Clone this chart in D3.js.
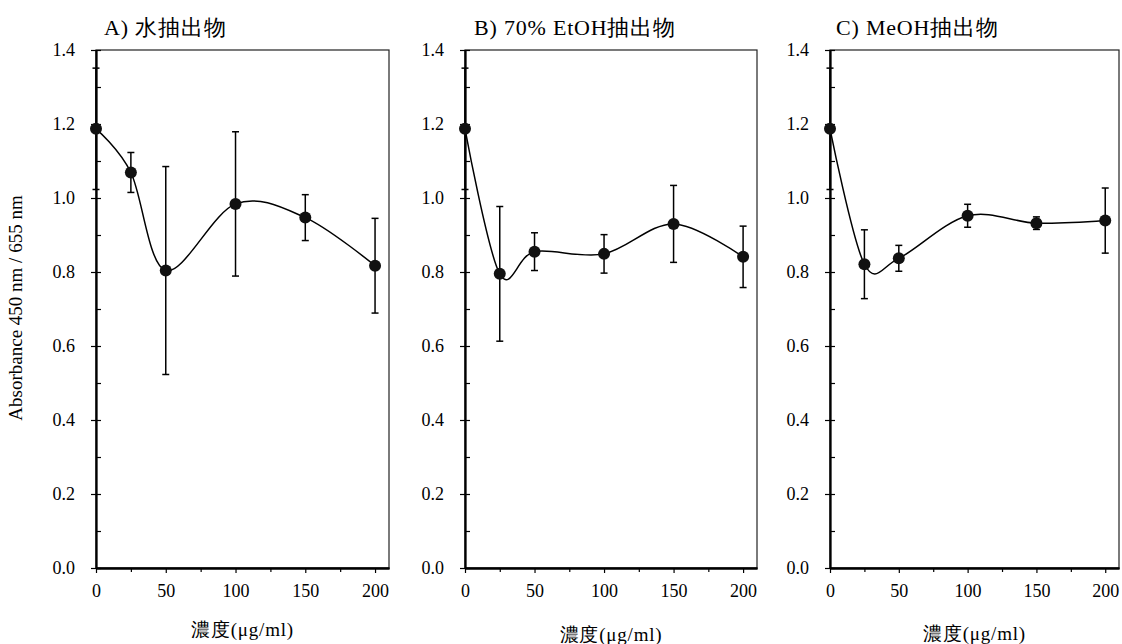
<!DOCTYPE html>
<html>
<head>
<meta charset="utf-8">
<script src="https://cdn.jsdelivr.net/npm/d3@7"></script>
<style>
  body { margin: 0; background: #fff; }
  svg text { font-family: "Liberation Serif", serif; fill: #000; }
</style>
</head>
<body>
<svg width="1122" height="644"></svg>
<script>
// concentrations (µg/ml)
const conc = [0, 25, 50, 100, 150, 200];

// A) water extract
const meanA = [1.187, 1.069, 0.804, 0.984, 0.947, 0.817];
const errA  = [0.164, 0.054, 0.281, 0.195, 0.062, 0.128];
// B) 70% EtOH extract
const meanB = [1.187, 0.795, 0.855, 0.849, 0.930, 0.841];
const errB  = [0.164, 0.182, 0.051, 0.052, 0.104, 0.083];
// C) MeOH extract
const meanC = [1.187, 0.821, 0.837, 0.952, 0.932, 0.939];
const errC  = [0.164, 0.093, 0.035, 0.031, 0.017, 0.088];

const titles = ["A) 水抽出物", "B) 70% EtOH抽出物", "C) MeOH抽出物"];
const xTitle = "濃度(μg/ml)";
const yTitle = "Absorbance 450 nm / 655 nm";
const yTicks = [0, 0.2, 0.4, 0.6, 0.8, 1.0, 1.2, 1.4];
const yMinor = d3.range(0, 1.41, 0.1);
const xTicks = [0, 50, 100, 150, 200];
const xMinor = [25, 75, 125, 175];

const panels = [
  {left: 96,  width: 293, title: titles[0], titleX: 104, xLabY: 636, mean: meanA, err: errA},
  {left: 465, width: 292, title: titles[1], titleX: 474, xLabY: 641, mean: meanB, err: errB},
  {left: 830, width: 289, title: titles[2], titleX: 836, xLabY: 640, mean: meanC, err: errC}
];

const plotTop = 50, plotBottom = 568;
const svg = d3.select("svg");

const y = d3.scaleLinear([0, 1.4], [plotBottom, plotTop]);

svg.append("text")
  .attr("transform", `translate(22,308) rotate(-90)`)
  .attr("text-anchor", "middle")
  .style("font-size", "19px")
  .text(yTitle);

for (const p of panels) {
  const x = d3.scaleLinear([0, 210], [p.left, p.left + p.width]);
  const g = svg.append("g");

  // frame
  g.append("rect")
    .attr("x", p.left).attr("y", plotTop)
    .attr("width", p.width).attr("height", plotBottom - plotTop)
    .attr("fill", "none").attr("stroke", "#222").attr("stroke-width", 1.2);

  // y axis
  g.append("g").attr("transform", `translate(${p.left},0)`)
    .call(d3.axisLeft(y).tickValues(yTicks).tickSize(5).tickSizeOuter(0)
      .tickPadding(16).tickFormat(d3.format(".1f")));
  g.append("g").attr("transform", `translate(${p.left},0)`)
    .call(d3.axisLeft(y).tickValues(yMinor).tickSize(-5).tickSizeOuter(0).tickFormat(""));

  // x axis
  g.append("g").attr("transform", `translate(0,${plotBottom})`)
    .call(d3.axisBottom(x).tickValues(xTicks).tickSize(5).tickSizeOuter(0).tickPadding(11));
  g.append("g").attr("transform", `translate(0,${plotBottom})`)
    .call(d3.axisBottom(x).tickValues(xMinor).tickSize(4).tickSizeOuter(0).tickFormat(""));

  g.selectAll("g").attr("font-family", null).attr("font-size", null);
  g.selectAll(".domain").attr("stroke", "#000").attr("stroke-width", 1.8);
  g.selectAll(".tick line").attr("stroke", "#000").attr("stroke-width", 1.2);
  g.selectAll(".tick text").style("font-size", "18px");

  // titles
  g.append("text").attr("x", p.titleX).attr("y", 35)
    .style("font-size", "22px").style("letter-spacing", "0.8px").text(p.title);
  g.append("text").attr("x", p.left + p.width / 2).attr("y", p.xLabY)
    .attr("text-anchor", "middle").style("font-size", "19px")
    .style("letter-spacing", "0.8px").text(xTitle);

  const pts = conc.map((c, i) => ({c, m: p.mean[i], e: p.err[i]}));

  // error bars
  const eb = g.append("g").attr("stroke", "#000").attr("stroke-width", 1.5);
  eb.selectAll("line.v").data(pts).join("line").attr("class", "v")
    .attr("x1", d => x(d.c)).attr("x2", d => x(d.c))
    .attr("y1", d => y(d.m + d.e)).attr("y2", d => y(d.m - d.e));
  eb.selectAll("line.t").data(pts).join("line").attr("class", "t")
    .attr("x1", d => x(d.c) - 3.5).attr("x2", d => x(d.c) + 3.5)
    .attr("y1", d => y(d.m + d.e)).attr("y2", d => y(d.m + d.e));
  eb.selectAll("line.b").data(pts).join("line").attr("class", "b")
    .attr("x1", d => x(d.c) - 3.5).attr("x2", d => x(d.c) + 3.5)
    .attr("y1", d => y(d.m - d.e)).attr("y2", d => y(d.m - d.e));

  // smoothed line
  const line = d3.line().x(d => x(d.c)).y(d => y(d.m)).curve(d3.curveCardinal.tension(0));
  g.append("path").datum(pts).attr("d", line)
    .attr("fill", "none").attr("stroke", "#000").attr("stroke-width", 1.5);

  // markers
  g.selectAll("circle").data(pts).join("circle")
    .attr("cx", d => x(d.c)).attr("cy", d => y(d.m)).attr("r", 6)
    .attr("fill", "#111");
}
</script>
</body>
</html>
